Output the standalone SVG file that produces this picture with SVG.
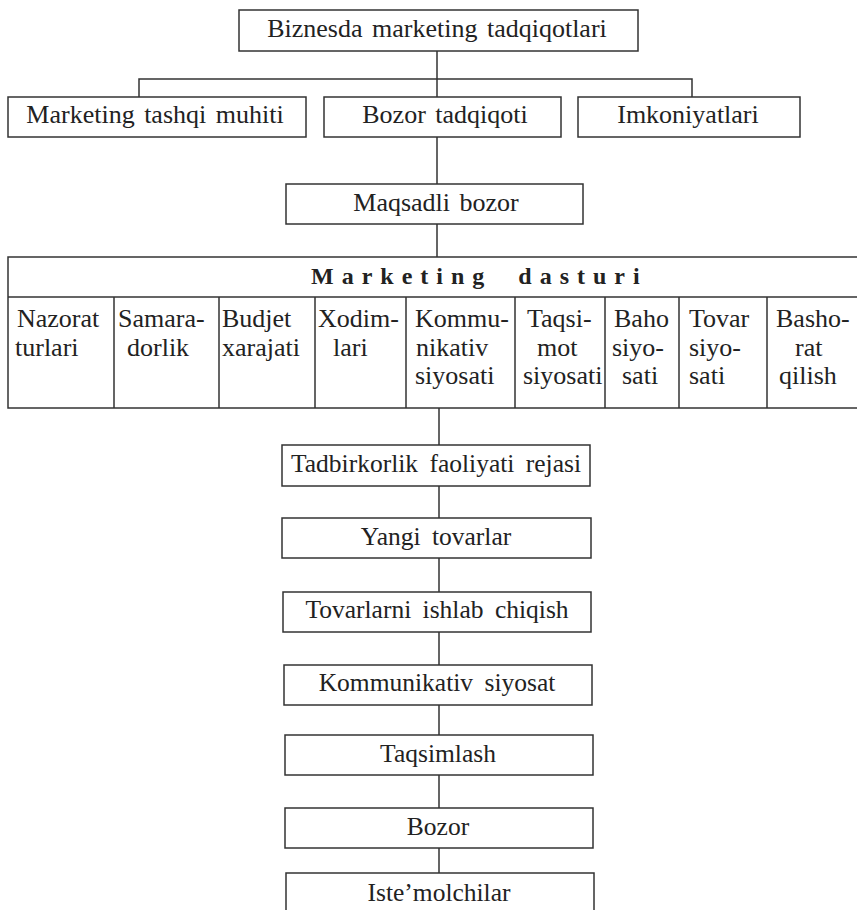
<svg xmlns="http://www.w3.org/2000/svg" width="857" height="910" viewBox="0 0 857 910">
<style>
.box{fill:#fff;stroke:#333;stroke-width:1.5}
.ln{stroke:#333;stroke-width:1.5;fill:none}
.t{font-family:"Liberation Serif","Times New Roman",serif;font-size:26px;fill:#222;text-anchor:middle;word-spacing:3px}
.b{font-family:"Liberation Serif","Times New Roman",serif;font-size:25.5px;fill:#222;text-anchor:middle;word-spacing:5px}
.c{font-family:"Liberation Serif","Times New Roman",serif;font-size:26px;fill:#222}
.h{font-family:"Liberation Serif","Times New Roman",serif;font-size:24px;font-weight:bold;fill:#222;letter-spacing:8px;word-spacing:12px}
</style>
<rect width="857" height="910" fill="#fff"/>
<g id="connectors">
<path class="ln" d="M437 51V97M139 97V79H692V97M437 137V184M437 224V257"/>
<path class="ln" d="M439 408V445M439 486V518M439 558V592M439 632V665M439 705V735M439 775V808M439 848V873"/>
</g>
<g id="n-top"><rect class="box" x="239" y="10" width="399" height="41"/><text class="t" x="437" y="37">Biznesda marketing tadqiqotlari</text></g>
<g id="n-tashqi"><rect class="box" x="8" y="97" width="298" height="40"/><text class="t" x="155" y="123">Marketing tashqi muhiti</text></g>
<g id="n-bozor-tad"><rect class="box" x="324" y="97" width="237" height="40"/><text class="t" x="445" y="123">Bozor tadqiqoti</text></g>
<g id="n-imkon"><rect class="box" x="578" y="97" width="222" height="40"/><text class="t" x="688" y="123">Imkoniyatlari</text></g>
<g id="n-maqsadli"><rect class="box" x="286" y="184" width="297" height="40"/><text class="t" x="436" y="211">Maqsadli bozor</text></g>
<g id="n-dastur">
<rect class="box" x="8" y="257" width="855" height="151"/>
<path class="ln" d="M8 297H863M114 297V408M219 297V408M315 297V408M406 297V408M515 297V408M605 297V408M679 297V408M767 297V408"/>
<text class="h" x="311" y="284">Marketing dasturi</text>
<text class="c"><tspan x="17" y="327">Nazorat</tspan><tspan x="15" y="356">turlari</tspan></text>
<text class="c"><tspan x="118" y="327">Samara-</tspan><tspan x="127" y="356">dorlik</tspan></text>
<text class="c"><tspan x="222" y="327">Budjet</tspan><tspan x="222" y="356">xarajati</tspan></text>
<text class="c"><tspan x="318" y="327">Xodim-</tspan><tspan x="333" y="356">lari</tspan></text>
<text class="c"><tspan x="415" y="327">Kommu-</tspan><tspan x="416" y="356">nikativ</tspan><tspan x="415" y="384">siyosati</tspan></text>
<text class="c"><tspan x="527" y="327">Taqsi-</tspan><tspan x="537" y="356">mot</tspan><tspan x="523" y="384">siyosati</tspan></text>
<text class="c"><tspan x="614" y="327">Baho</tspan><tspan x="612" y="356">siyo-</tspan><tspan x="622" y="384">sati</tspan></text>
<text class="c"><tspan x="689" y="327">Tovar</tspan><tspan x="689" y="356">siyo-</tspan><tspan x="689" y="384">sati</tspan></text>
<text class="c"><tspan x="776" y="327">Basho-</tspan><tspan x="795" y="356">rat</tspan><tspan x="779" y="384">qilish</tspan></text>
</g>
<g id="n-tadbir"><rect class="box" x="282" y="445" width="308" height="41"/><text class="b" x="436" y="472">Tadbirkorlik faoliyati rejasi</text></g>
<g id="n-yangi"><rect class="box" x="282" y="518" width="309" height="40"/><text class="b" x="436" y="545">Yangi tovarlar</text></g>
<g id="n-ishlab"><rect class="box" x="283" y="592" width="308" height="40"/><text class="b" x="437" y="618">Tovarlarni ishlab chiqish</text></g>
<g id="n-komm"><rect class="box" x="284" y="665" width="308" height="40"/><text class="b" x="437" y="691">Kommunikativ siyosat</text></g>
<g id="n-taqsim"><rect class="box" x="285" y="735" width="308" height="40"/><text class="b" x="438" y="762">Taqsimlash</text></g>
<g id="n-bozor"><rect class="box" x="285" y="808" width="308" height="40"/><text class="b" x="438" y="835">Bozor</text></g>
<g id="n-istemol"><rect class="box" x="286" y="873" width="308" height="45"/><text class="b" x="439" y="901">Iste’molchilar</text></g>
</svg>
